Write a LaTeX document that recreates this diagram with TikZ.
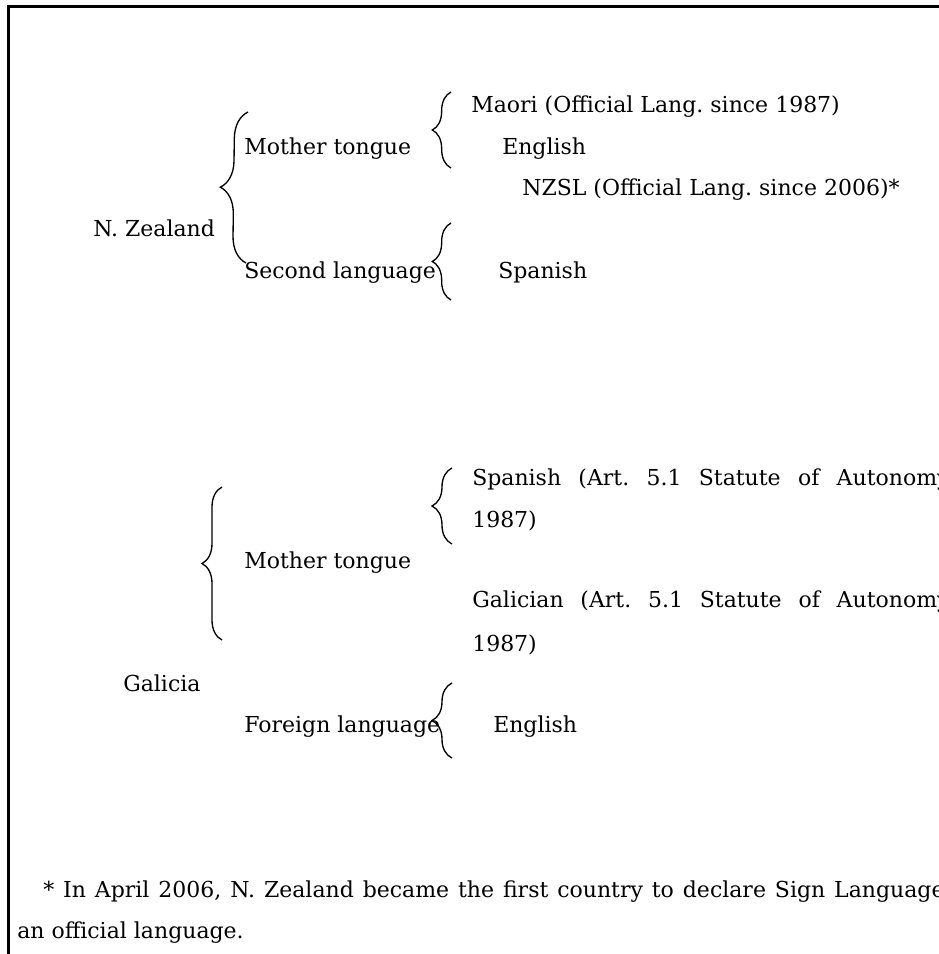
\documentclass[tikz,border=0pt]{standalone}
\usepackage{fontspec}
\setmainfont{DejaVu Serif}
\usetikzlibrary{decorations.pathreplacing}
\tikzset{
  lbl/.style={anchor=base west,inner sep=0pt,font=\fontsize{16.5}{20}\selectfont\frenchspacing},
  brc/.style={decorate,decoration={brace,amplitude=#1},line width=1pt},
  frame/.style={line width=1.6pt}
}
% one justified line of given width
\newcommand{\justline}[2]{\hbox to #1{\frenchspacing\spaceskip=.3em plus 1fil minus .1em #2}}
\begin{document}
\begin{tikzpicture}[x=0.75pt,y=-0.75pt]
  \useasboundingbox (0,0) rectangle (939,954);
  \clip (0,0) rectangle (939,954);
  \draw[frame] (939,6.5) -- (8.5,6.5) -- (8.5,954);
  % N. Zealand
  \node[lbl] (nz) at (93,236) {N. Zealand};
  \node[lbl] (nzmt) at (244,154) {Mother tongue};
  \node[lbl] (nzsl) at (244,278) {Second language};
  \node[lbl] (maori) at (471,112) {Maori (Official Lang. since 1987)};
  \node[lbl] (nzen) at (502,154) {English};
  \node[lbl] (nzsign) at (522,195) {NZSL (Official Lang. since 2006)*};
  \node[lbl] (nzes) at (498,278) {Spanish};
  \coordinate (nzbt) at (248,112);
  \coordinate (nzbb) at (246,263);
  \coordinate (nzmtt) at (451,92);
  \coordinate (nzmtb) at (451,168);
  \coordinate (nzslt) at (451,223);
  \coordinate (nzslb) at (451,300);
  \draw[brc=20pt] (nzbb) -- (nzbt);
  \draw[brc=14pt] (nzmtb) -- (nzmtt);
  \draw[brc=14pt] (nzslb) -- (nzslt);
  % Galicia
  \node[lbl] (gal) at (123,691) {Galicia};
  \node[lbl] (galmt) at (244,568) {Mother tongue};
  \node[lbl] (galfl) at (244,732) {Foreign language};
  \node[lbl] (gales) at (472,485) {\justline{358pt}{Spanish (Art. 5.1 Statute of Autonomy}};
  \node[lbl] (galesy) at (472,527) {1987)};
  \node[lbl] (galgl) at (472,607) {\justline{358pt}{Galician (Art. 5.1 Statute of Autonomy}};
  \node[lbl] (galgly) at (472,651) {1987)};
  \node[lbl] (galen) at (493,732) {English};
  \coordinate (galbt) at (222,487);
  \coordinate (galbb) at (222,640);
  \coordinate (galmtt) at (452,468);
  \coordinate (galmtb) at (452,544);
  \coordinate (galflt) at (452,683);
  \coordinate (galflb) at (452,758);
  \draw[brc=15pt] (galbb) -- (galbt);
  \draw[brc=15pt] (galmtb) -- (galmtt);
  \draw[brc=15pt] (galflb) -- (galflt);
  % footnote
  \node[lbl] (fn) at (43,897) {\justline{676pt}{* In April 2006, N. Zealand became the first country to declare Sign Language}};
  \node[lbl] (fnb) at (17,938) {an official language.};
\end{tikzpicture}
\end{document}
